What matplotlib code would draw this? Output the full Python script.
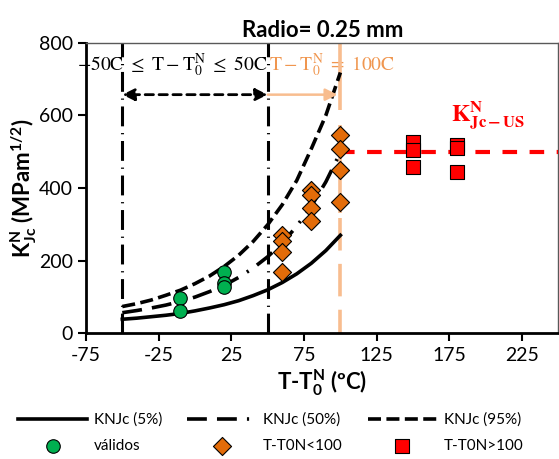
import matplotlib
matplotlib.use("Agg")
import matplotlib.pyplot as plt

plt.rcParams["font.family"] = ["Lato", "DejaVu Sans"]
plt.rcParams["mathtext.fontset"] = "custom"
plt.rcParams["mathtext.rm"] = "Lato"
plt.rcParams["mathtext.bf"] = "Lato:bold"
plt.rcParams["axes.unicode_minus"] = False

# master curves (T - T0N vs KNJc)
curve_t = [-50, -40, -30, -20, -10, 0, 10, 20, 30, 40, 50, 60, 70, 80, 90, 100]
k_05 = [39, 42, 46, 50, 55, 62, 70, 79, 90, 104, 120, 140, 164, 193, 228, 270]
k_50 = [57, 63, 70, 78, 88, 100, 115, 132, 154, 180, 211, 249, 295, 350, 417, 498]
k_95 = [74, 82, 92, 105, 119, 137, 158, 184, 215, 253, 299, 354, 421, 508, 600, 718]

# test results
valid_t = [-10, -10, 20, 20, 20]
valid_k = [97, 62, 168, 138, 128]
mid_t = [60, 60, 60, 60, 80, 80, 80, 80, 100, 100, 100, 100]
mid_k = [271, 253, 225, 170, 395, 381, 345, 308, 547, 508, 449, 361]
high_t = [150, 150, 150, 180, 180, 180]
high_k = [526, 506, 458, 518, 510, 443]

k_us = 500
t_limits = [-50, 50]
t_max = 100

peach = "#F8BD8F"
peach_txt = "#F0964F"

fig = plt.figure(figsize=(5.59, 4.59), dpi=100)
ax = fig.add_axes([0.1538, 0.2736, 0.8452, 0.6334])

# validity limits
for t in t_limits:
    ax.plot([t, t], [0, 800], color="black", lw=2.2, dashes=(6.5, 2.2, 0.4, 2.2), zorder=2)
ax.plot([t_max, t_max], [800, 615], color=peach, lw=2.6, solid_capstyle="butt", zorder=2)
ax.plot([t_max, t_max], [573, 330], color=peach, lw=2.6, solid_capstyle="butt", zorder=2)
ax.plot([t_max, t_max], [318, 0], color=peach, lw=2.6, dashes=(9, 3.7), zorder=2)

# curves
ax.plot(curve_t, k_05, color="black", lw=2.6, label="KNJc (5%)", zorder=3)
ax.plot(curve_t, k_50, color="black", lw=2.6, dashes=(5.5, 2.8, 5.5, 2.8, 0.6, 2.8),
        label="KNJc (50%)", zorder=3)
ax.plot(curve_t, k_95, color="black", lw=2.6, dashes=(3.6, 1.5), label="KNJc (95%)", zorder=3)

ax.plot([t_max, 250], [k_us, k_us], color="#FF0000", lw=3, dashes=(3.5, 3), zorder=3)

ax.scatter(valid_t, valid_k, s=95, marker="o", color="#00B050", edgecolor="black",
           linewidth=0.8, label="válidos", zorder=4)
ax.scatter(mid_t, mid_k, s=85, marker="D", color="#E36C09", edgecolor="black",
           linewidth=0.8, label="T-T0N<100", zorder=4)
ax.scatter(high_t, high_k, s=110, marker="s", color="#FF0000", edgecolor="black",
           linewidth=0.8, label="T-T0N>100", zorder=4)

# arrows and annotations
ax.annotate("", xy=(-50, 657), xytext=(50, 657),
            arrowprops=dict(arrowstyle="<|-|>", color="black", lw=2, ls=(0, (3, 2)),
                            mutation_scale=18, shrinkA=0, shrinkB=0))
ax.annotate("", xy=(98, 657), xytext=(50, 657),
            arrowprops=dict(arrowstyle="-|>", color=peach, lw=1.8,
                            mutation_scale=18, shrinkA=0, shrinkB=0))
ax.text(-16, 737, r"$-50\mathrm{C}\ \leq\ \mathrm{T}-\mathrm{T_0^N}\ \leq\ 50\mathrm{C}$",
        math_fontfamily="stix", fontsize=14, ha="center", va="center", zorder=1)
ax.text(51, 737, r"$\mathrm{T}-\mathrm{T_0^N}\ =\ 100\mathrm{C}$", math_fontfamily="stix",
        fontsize=14, color=peach_txt, ha="left", va="center", zorder=1)
ax.text(176, 583, r"$\mathbf{K_{Jc-US}^{N}}$", math_fontfamily="stix", fontsize=17,
        color="#FF0000", ha="left", va="baseline")

ax.set_xlim(-75, 250)
ax.set_ylim(0, 800)
ax.set_xticks([-75, -25, 25, 75, 125, 175, 225])
ax.set_yticks([0, 200, 400, 600, 800])
ax.tick_params(labelsize=14, width=1.5, length=6, direction="out")
for s in ["left", "bottom"]:
    ax.spines[s].set_linewidth(2)
for s in ["top", "right"]:
    ax.spines[s].set_color("#595959")
    ax.spines[s].set_linewidth(1)

ax.set_title("Radio= 0.25 mm", fontsize=16, fontweight="bold", pad=4)
ax.set_xlabel(r"T-T$\mathbf{_0^N}$ (ºC)", fontsize=16, fontweight="bold", labelpad=3)
ax.set_ylabel(r"K$\mathbf{^N_{Jc}}$ (MPam$\mathbf{^{1/2}}$)", fontsize=16,
              fontweight="bold", labelpad=0)

h, l = ax.get_legend_handles_labels()
order = [0, 3, 1, 4, 2, 5]
fig.legend([h[i] for i in order], [l[i] for i in order], ncol=3, loc="lower left",
           bbox_to_anchor=(0.008, -0.016), frameon=False, fontsize=11, handlelength=4.5,
           columnspacing=1.65, handletextpad=0.45, labelspacing=0.75)

fig.savefig("out.png", dpi=100)
